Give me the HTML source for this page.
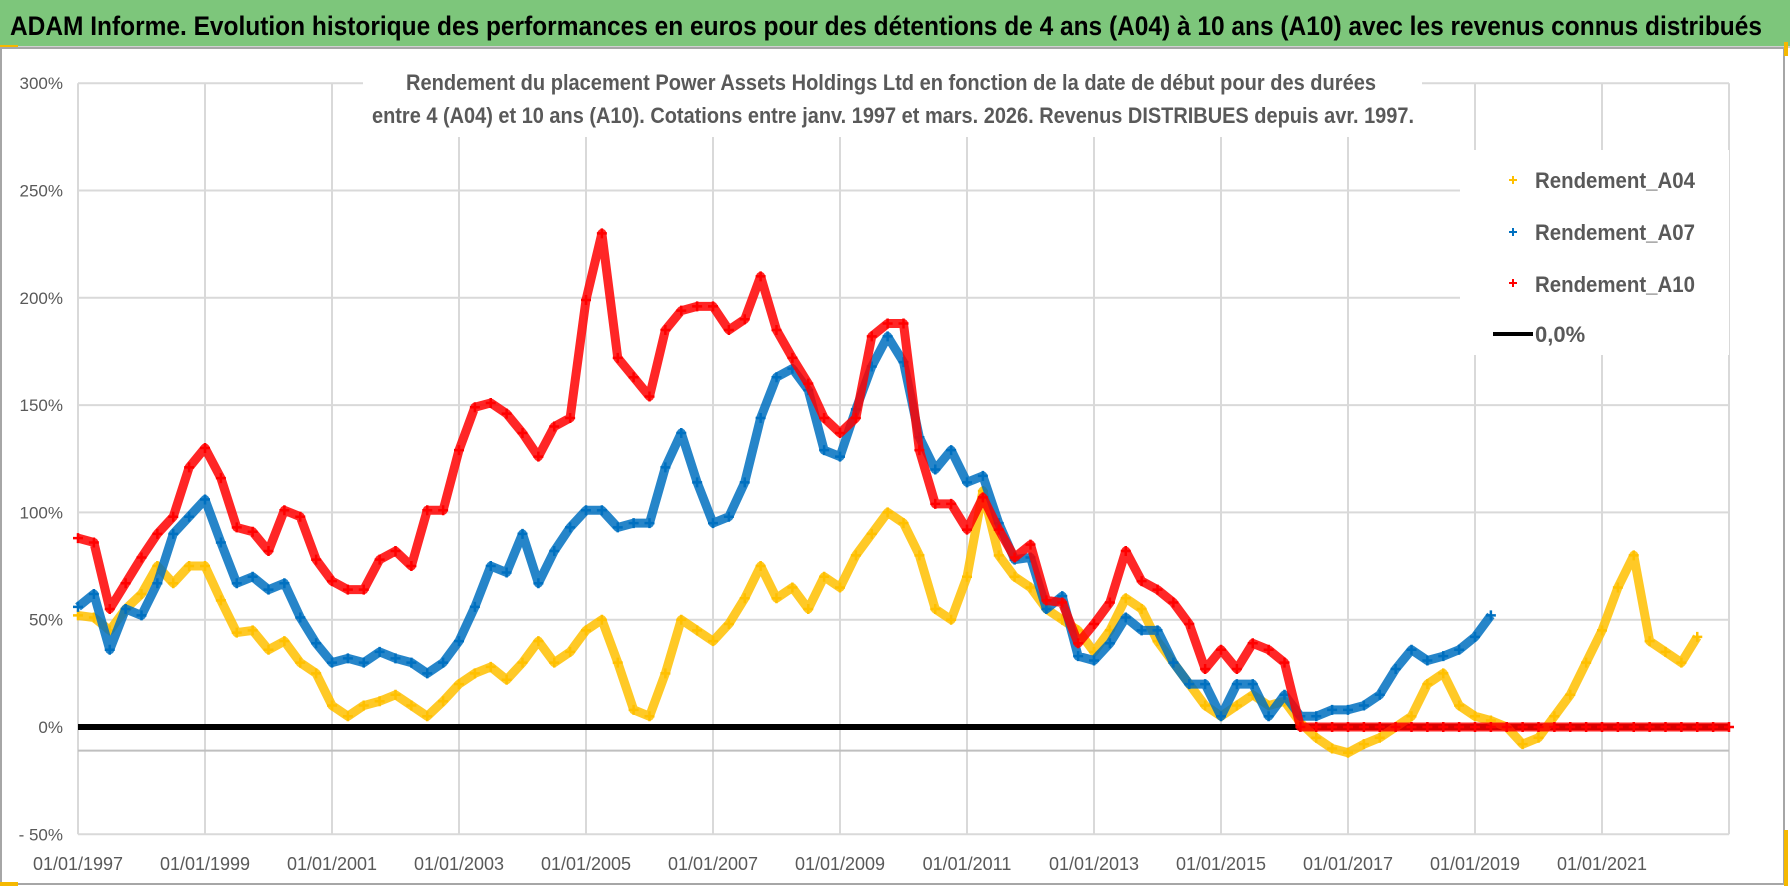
<!DOCTYPE html>
<html><head><meta charset="utf-8"><style>
html,body{margin:0;padding:0;background:#fff;}
svg{display:block;font-family:"Liberation Sans",sans-serif;}
</style></head><body>
<svg id="chart" width="1790" height="886" viewBox="0 0 1790 886" xmlns="http://www.w3.org/2000/svg">
<rect x="0" y="0" width="1790" height="886" fill="#fff"/>
<rect x="0" y="0" width="1790" height="46" fill="#7DC67B"/>
<line x1="0" y1="47" x2="1790" y2="47" stroke="#D0D0D0" stroke-width="2"/>
<rect x="0" y="45" width="18" height="4" fill="#F5B800"/>
<text x="10" y="35" font-size="27" font-weight="bold" fill="#000" textLength="1752" lengthAdjust="spacingAndGlyphs">ADAM Informe. Evolution historique des performances en euros pour des détentions de 4 ans (A04) à 10 ans (A10) avec les revenus connus distribués</text>
<rect x="1" y="48" width="1783" height="836" fill="none" stroke="#A6A6A6" stroke-width="2"/>
<rect x="0" y="882" width="18" height="4" fill="#F5B800"/>
<rect x="1784" y="830" width="4" height="56" fill="#F5B800"/>
<rect x="1784" y="42" width="4" height="14" fill="#F5B800"/>
<g id="grid"></g>
<g id="zero-line"></g>
<g id="series"></g>
<rect x="363" y="55" width="1059" height="82" fill="#fff"/>
<text x="406" y="90" font-size="22" font-weight="bold" fill="#595959" textLength="970" lengthAdjust="spacingAndGlyphs">Rendement du placement Power Assets Holdings Ltd en fonction de la date de début pour des durées</text>
<text x="372" y="123" font-size="22" font-weight="bold" fill="#595959" textLength="1042" lengthAdjust="spacingAndGlyphs">entre 4 (A04) et 10 ans (A10). Cotations entre janv. 1997 et mars. 2026. Revenus DISTRIBUES depuis avr. 1997.</text>
<g>
<rect x="1460" y="150" width="269" height="205" fill="#fff"/>
<g>
<path d="M1509 180h8M1513 176v8" stroke="#FFC000" stroke-width="2"/>
<text x="1535" y="188" font-size="22" font-weight="bold" fill="#595959" textLength="160" lengthAdjust="spacingAndGlyphs">Rendement_A04</text></g>
<g>
<path d="M1509 232h8M1513 228v8" stroke="#0070C0" stroke-width="2"/>
<text x="1535" y="240" font-size="22" font-weight="bold" fill="#595959" textLength="160" lengthAdjust="spacingAndGlyphs">Rendement_A07</text></g>
<g>
<path d="M1509 283h8M1513 279v8" stroke="#FF0000" stroke-width="2"/>
<text x="1535" y="292" font-size="22" font-weight="bold" fill="#595959" textLength="160" lengthAdjust="spacingAndGlyphs">Rendement_A10</text></g>
<g>
<line x1="1493" y1="334" x2="1533" y2="334" stroke="#000" stroke-width="4"/>
<text x="1535" y="342" font-size="22" font-weight="bold" fill="#595959">0,0%</text></g>
</g>
<g id="axes"></g>
</svg>
<script>
const startYear = 1997;
const stepYears = 0.25;
const yTickValues = [300, 250, 200, 150, 100, 50, 0, -50];
const yTickLabels = ["300%", "250%", "200%", "150%", "100%", "50%", "0%", "- 50%"];
const xTickYears = [1997, 1999, 2001, 2003, 2005, 2007, 2009, 2011, 2013, 2015, 2017, 2019, 2021];
const xTickLabels = ["01/01/1997","01/01/1999","01/01/2001","01/01/2003","01/01/2005","01/01/2007","01/01/2009","01/01/2011","01/01/2013","01/01/2015","01/01/2017","01/01/2019","01/01/2021"];
const a04Values = [52,51,45,55, 62,75,67,75, 75,59,44,45, 36,40,30,25, 10,5,10,12, 15,10,5,12, 20,25,28,22, 30,40,30,35, 45,50,30,8, 5,25,50,45, 40,48,60,75, 60,65,55,70, 65,80,90,100, 95,80,55,50, 70,110,80,70, 65,55,50,45, 35,45,60,55, 40,30,20,10, 5,10,15,10, 12,2,-5,-10, -12,-8,-5,0, 5,20,25,10, 5,3,0,-8, -5,5,15,30, 45,65,80,40, 35,30,42];
const a07Values = [56,62,36,55, 52,67,90,98, 106,86,67,70, 64,67,51,39, 30,32,30,35, 32,30,25,30, 40,56,75,72, 90,67,82,93, 101,101,93,95, 95,121,137,114, 95,98,114,144, 163,167,157,129, 126,148,168,182, 170,135,120,129, 114,117,95,78, 79,55,61,33, 31,39,51,45, 45,30,20,20, 5,20,20,5, 15,5,5,8, 8,10,15,27, 36,31,33,36, 42,52];
const a10Values = [88,86,55,67, 79,90,98,121, 130,116,93,91, 82,101,98,78, 68,64,64,78, 82,75,101,101, 129,149,151,146, 137,126,140,144, 199,230,172,163, 154,185,194,196, 196,185,190,210, 185,172,160,144, 137,144,182,188, 188,129,104,104, 92,107,92,79, 85,59,58,39, 48,58,82,68, 64,58,48,27, 36,27,39,36, 30,0,0,0, 0,0,0,0, 0,0,0,0, 0,0,0,0, 0,0,0,0, 0,0,0,0, 0,0,0,0, 0];
const zeroLineRange = [1997, 2023];
const xAxisLineValue = -11;

const NS = "http://www.w3.org/2000/svg";
const plotLeft = 78, plotRight = 1729;
function xScale(year){ return plotLeft + (year - 1997) * 63.5; }
function yScale(v){ return 727 - v * 107.3 / 50; }
function mk(tag, attrs, parent){ const e=document.createElementNS(NS,tag); for(const k in attrs) e.setAttribute(k,attrs[k]); parent.appendChild(e); return e; }

const grid = document.getElementById("grid");
const axes = document.getElementById("axes");
yTickValues.forEach((v,i)=>{
  const l = mk("line",{x1:plotLeft,x2:plotRight,y1:yScale(v),y2:yScale(v),stroke:"#D9D9D9","stroke-width":2},grid);
  
  
  const t = mk("text",{x:63,y:yScale(v)+6,"text-anchor":"end","font-size":17,fill:"#595959"},axes);
  t.textContent = yTickLabels[i];
  
  
});
for(let yr=1997; yr<=2023; yr+=2){
  const l = mk("line",{x1:xScale(yr),x2:xScale(yr),y1:yScale(300),y2:yScale(-50),stroke:"#D9D9D9","stroke-width":2},grid);
  
  
}
xTickYears.forEach((yr,i)=>{
  const t = mk("text",{x:xScale(yr),y:870,"text-anchor":"middle","font-size":18,fill:"#595959"},axes);
  t.textContent = xTickLabels[i];
  
  
});
const axl = mk("line",{x1:plotLeft,x2:plotRight,y1:yScale(xAxisLineValue),y2:yScale(xAxisLineValue),stroke:"#BFBFBF","stroke-width":2},grid);



const zl = mk("line",{x1:xScale(zeroLineRange[0]),x2:xScale(zeroLineRange[1]),y1:yScale(0),y2:yScale(0),stroke:"#000","stroke-width":6},document.getElementById("zero-line"));



const seriesG = document.getElementById("series");
function drawSeries(vals, color, name){
  const g = mk("g",{},seriesG);
  
  
  const pts = vals.map((v,i)=>[xScale(startYear+i*stepYears), yScale(v)]);
  mk("polyline",{points:pts.map(p=>p.join(",")).join(" "),fill:"none",stroke:color,"stroke-width":9,"stroke-linejoin":"round",opacity:0.85},g);
  let d="";
  pts.forEach(p=>{ d+=`M${p[0]-5} ${p[1]}h10M${p[0]} ${p[1]-5}v10`; });
  const m = mk("path",{d:d,stroke:color,"stroke-width":2.5,fill:"none"},g);
  
  
}
drawSeries(a04Values, "#FFC000", "series-a04");
drawSeries(a07Values, "#0070C0", "series-a07");
drawSeries(a10Values, "#FF0000", "series-a10");
</script>
</body></html>
